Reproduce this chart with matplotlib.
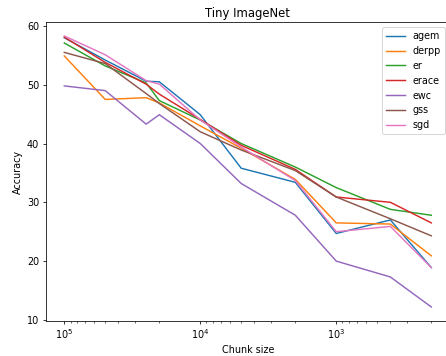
import numpy as np
import matplotlib
matplotlib.use("Agg")
import matplotlib.pyplot as plt

# chunk sizes (x axis, log scale, reversed)
chunk_size = [100000, 50000, 25000, 20000, 10000, 5000, 2000, 1000, 400, 200]

# accuracy per method
agem  = [58.0, 54.2, 50.6, 50.5, 44.9, 35.8, 33.4, 24.7, 27.0, 18.9]
derpp = [54.9, 47.5, 47.8, 46.9, 43.0, 39.2, 33.9, 26.5, 26.3, 20.9]
er    = [57.1, 53.2, 50.3, 47.3, 44.0, 40.0, 36.0, 32.5, 28.8, 27.8]
erace = [58.1, 53.8, 50.1, 48.4, 44.1, 39.7, 35.6, 30.9, 30.0, 26.5]
ewc   = [49.8, 49.0, 43.3, 44.9, 40.0, 33.2, 27.8, 20.0, 17.3, 12.2]
gss   = [55.5, 53.6, 48.5, 46.8, 42.0, 38.9, 35.4, 30.9, 27.2, 24.3]
sgd   = [58.3, 55.1, 50.7, 50.1, 44.0, 39.4, 33.7, 25.0, 25.9, 18.9]

methods = ["agem", "derpp", "er", "erace", "ewc", "gss", "sgd"]
values = [agem, derpp, er, erace, ewc, gss, sgd]

fig = plt.figure(figsize=(6.4, 5.108), dpi=69.7)
# axes runs slightly past the right edge, like the cropped reference
ax = fig.add_axes([0.103, 0.0997, 0.905, 0.8373])

for name, acc in zip(methods, values):
    ax.plot(chunk_size, acc, label=name)

ax.set_xscale("log")
ax.invert_xaxis()
ax.set_title("Tiny ImageNet")
ax.set_xlabel("Chunk size")
ax.set_ylabel("Accuracy")
ax.legend(loc="upper right")

fig.savefig("out.png", dpi=69.7)
